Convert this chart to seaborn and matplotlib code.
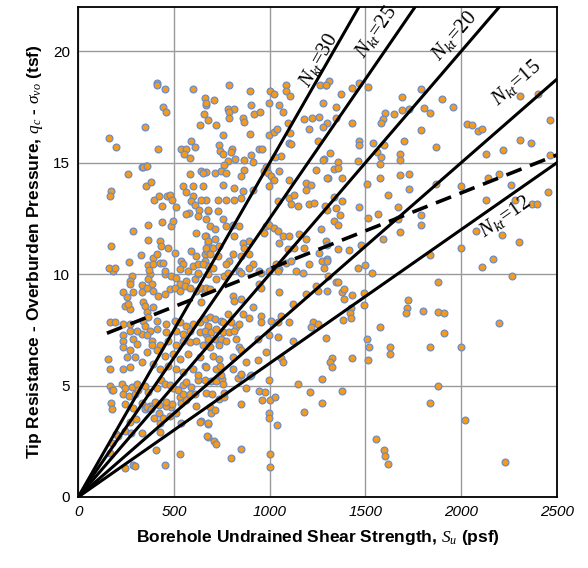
import numpy as np
import pandas as pd
import matplotlib
matplotlib.use("Agg")
import matplotlib.pyplot as plt
import seaborn as sns

# (Su psf, qc - svo tsf), grouped by area of the plot
pts_top_left = [(414, 18.6), (409, 18.5), (452, 18.3), (442, 17.5), (461, 17.3), (348, 16.6), (161, 16.1),
                (198, 15.7), (416, 15.6), (333, 14.8), (354, 14.85), (602, 18.3), (660, 17.9), (669, 17.6),
                (659, 17.2), (678, 16.9), (634, 16.7), (588, 16.0), (612, 15.7), (539, 15.6), (562, 15.6),
                (555, 15.4), (582, 15.2)]
pts_top_mid = [(790, 18.5), (898, 18.2), (1002, 18.2), (1024, 18.1), (1085, 18.5), (1087, 18.2), (1104, 18.0),
               (669, 17.7), (711, 17.8), (721, 16.7), (784, 17.4), (813, 17.4), (789, 17.3), (789, 17.0),
               (903, 17.6), (920, 17.2), (950, 17.3), (997, 17.7), (1049, 17.6), (1071, 17.3), (862, 17.0),
               (867, 16.85), (754, 16.25), (898, 16.3), (997, 16.25), (1024, 16.4), (1038, 16.5), (1095, 16.8),
               (1104, 16.35), (1180, 16.96), (1220, 17.0), (1257, 17.07), (1298, 16.8), (1264, 18.5), (1295, 18.5),
               (1278, 17.7), (1203, 16.5), (1279, 16.6), (1255, 16.0), (1102, 15.9), (1113, 15.86), (1061, 15.3),
               (1030, 15.24), (738, 15.8), (742, 15.55), (756, 15.4), (802, 15.6), (799, 15.5), (903, 15.36),
               (943, 15.6), (960, 15.6), (780, 15.06), (820, 15.16), (868, 15.13), (912, 15.03), (981, 14.8),
               (764, 14.9), (1286, 15.16)]
pts_top_right = [(1310, 18.66), (1296, 18.48), (1432, 18.35), (1466, 18.56), (1513, 18.42), (1371, 18.1),
                 (1345, 17.5), (1345, 17.0), (1428, 16.8), (1692, 17.95), (1792, 18.3), (1900, 17.86), (1960, 17.5),
                 (1806, 17.47), (1839, 17.23), (1730, 17.42), (1692, 17.37), (1647, 17.19), (1605, 17.23),
                 (1593, 16.96), (1584, 16.79), (2307, 18.0), (2404, 18.08), (2029, 16.74), (2059, 16.7),
                 (2089, 16.43), (2110, 16.52), (2466, 16.9), (1792, 16.47), (1704, 16.0), (1870, 15.7), (1541, 15.9),
                 (1596, 15.8), (1560, 15.5), (1584, 15.25), (1468, 15.97), (1468, 15.8), (1316, 15.46), (1279, 15.13),
                 (1356, 15.04), (1335, 14.73), (1359, 14.76), (1461, 15.06), (1683, 15.4), (1681, 15.13), (1730, 14.5),
                 (1683, 14.46), (1574, 14.95), (2130, 15.39), (2217, 15.58), (2305, 16.03), (2364, 15.9), (2466, 15.36)]
pts_upper_right = [(1305, 14.3), (1380, 14.3), (1576, 14.33), (1506, 14.06), (1726, 13.84), (1868, 14.03),
                   (2000, 13.95), (2139, 14.3), (2196, 14.48), (2258, 14.0), (2454, 13.67), (2130, 13.35),
                   (2283, 13.32), (2368, 13.14), (2394, 13.14), (2078, 11.93), (2215, 11.77), (2304, 11.44),
                   (2000, 11.17), (2165, 10.68), (2108, 10.33), (2264, 9.92), (1837, 10.86), (1616, 13.56),
                   (1671, 13.0), (1668, 12.49), (1792, 12.65), (1792, 12.23), (1683, 11.89), (1565, 12.7),
                   (1515, 12.5), (1593, 11.58), (1465, 13.0), (1376, 13.3), (1335, 13.45), (1288, 13.05),
                   (1345, 12.95), (1366, 12.65), (1337, 12.38), (1357, 12.23), (1267, 12.04), (1293, 11.49),
                   (1302, 11.33), (1357, 11.15), (1413, 11.08), (1477, 11.33), (1276, 10.6), (1302, 10.67),
                   (1463, 10.3), (1496, 10.39), (1536, 10.07), (1305, 9.92)]
pts_lower_right = [(1345, 9.66), (1359, 9.66), (1297, 9.24), (1380, 9.18), (1388, 9.34), (1428, 9.08), (1491, 9.17),
                   (1387, 8.88), (1425, 8.48), (1420, 8.27), (1426, 8.05), (1491, 8.62), (1385, 7.96), (1879, 9.67),
                   (1723, 8.85), (1718, 8.48), (1712, 8.24), (1801, 8.36), (1879, 8.32), (1912, 8.24), (2200, 7.83),
                   (1910, 7.34), (1577, 7.65), (1293, 7.13), (1506, 7.11), (1520, 6.71), (1512, 6.13), (1631, 6.75),
                   (1631, 6.4), (1839, 6.75), (1999, 6.75), (1324, 6.24), (1316, 6.08), (1324, 5.82), (1432, 6.24),
                   (1276, 5.28), (1376, 4.76), (1276, 4.23), (1879, 4.97), (1839, 4.23), (2021, 3.47), (1553, 2.62),
                   (1595, 2.13), (1605, 1.82), (1616, 1.46), (2227, 1.59)]
pts_bottom_mid = [(997, 5.24), (1148, 5.06), (1210, 4.72), (879, 4.9), (946, 4.76), (976, 4.72), (960, 4.36),
                  (1004, 4.36), (1030, 4.48), (851, 4.17), (995, 3.76), (995, 3.54), (1038, 3.24), (1180, 3.83),
                  (851, 2.17), (799, 1.73), (1004, 1.95), (1004, 1.33), (680, 2.71), (711, 2.53), (718, 2.38),
                  (690, 4.05), (692, 3.78), (716, 3.92), (643, 3.42), (680, 3.29), (738, 4.42), (759, 4.5),
                  (759, 4.67), (669, 4.69), (700, 4.63), (834, 5.34), (851, 5.49), (898, 5.42), (660, 5.24),
                  (692, 5.21), (721, 5.21), (750, 5.28), (756, 5.09)]
pts_bottom_left = [(166, 4.99), (177, 4.79), (170, 4.23), (177, 3.93), (244, 4.17), (288, 4.0), (236, 4.61),
                   (267, 4.55), (296, 4.64), (331, 4.23), (350, 3.97), (374, 4.08), (270, 3.38), (302, 3.51),
                   (198, 2.81), (210, 2.74), (244, 2.96), (276, 2.89), (175, 2.44), (166, 1.96), (244, 1.28),
                   (288, 1.42), (296, 1.37), (331, 2.89), (406, 2.11), (452, 1.43), (534, 1.92), (426, 2.93),
                   (426, 3.3), (395, 3.56), (423, 3.78), (444, 3.53), (478, 3.63), (484, 4.05), (458, 4.08),
                   (357, 4.05), (380, 3.93), (400, 4.27), (421, 4.12), (456, 4.27), (490, 4.17), (617, 4.09),
                   (634, 3.38), (676, 3.3), (674, 2.74), (539, 3.3), (513, 3.75), (530, 4.5), (539, 4.2), (565, 4.35),
                   (548, 4.64), (591, 4.94), (582, 4.64), (608, 4.64), (184, 4.79), (227, 5.09), (244, 4.87),
                   (279, 4.94), (305, 5.09), (314, 4.79), (348, 4.97), (366, 4.72), (409, 4.87), (435, 5.24),
                   (452, 5.09), (478, 5.01), (496, 4.87), (522, 4.82), (548, 5.01), (565, 5.16), (626, 5.24)]
pts_mid_left = [(184, 10.15), (279, 9.92), (270, 9.7), (270, 9.55), (331, 9.51), (374, 10.0), (366, 9.78),
                (383, 9.55), (452, 10.0), (487, 9.92), (513, 9.85), (565, 9.7), (530, 9.55), (608, 9.78), (626, 10.0),
                (236, 9.18), (253, 8.96), (284, 9.18), (244, 8.58), (270, 8.44), (261, 8.66), (331, 9.18), (357, 9.4),
                (392, 9.25), (418, 9.03), (452, 9.1), (478, 9.33), (505, 9.4), (530, 9.25), (556, 9.48), (582, 9.4),
                (617, 9.25), (643, 9.4), (660, 9.25), (340, 8.74), (348, 8.58), (392, 8.51), (357, 8.29),
                (366, 8.07), (340, 7.92), (348, 7.69), (374, 7.47), (331, 7.32), (357, 7.25), (383, 7.02),
                (166, 7.84), (192, 7.84), (236, 7.77), (270, 7.77), (270, 7.47), (305, 7.47), (236, 7.25),
                (236, 7.02), (288, 7.1), (305, 6.88), (236, 6.73), (270, 6.58), (253, 6.28), (296, 6.28), (158, 6.2),
                (166, 5.76), (236, 5.76), (270, 5.83), (409, 7.92), (461, 7.77), (505, 7.92), (530, 7.84),
                (565, 7.69), (600, 7.77), (634, 7.84), (660, 7.99), (678, 7.69), (409, 7.54), (461, 7.4), (513, 7.47),
                (548, 7.32), (582, 7.47), (634, 7.4), (669, 7.32), (383, 6.8), (426, 6.8), (470, 7.02), (513, 6.8),
                (548, 7.02), (582, 6.95), (617, 7.02), (678, 6.95), (357, 6.5), (409, 6.58), (452, 6.35),
                (496, 6.43), (530, 6.2), (574, 6.43), (634, 6.28), (331, 6.06), (392, 5.98), (426, 5.76), (470, 5.9),
                (513, 5.76), (548, 5.61), (600, 5.76), (660, 5.9), (626, 5.46)]
pts_upper_left = [(258, 14.51), (340, 14.8), (357, 14.84), (172, 13.72), (166, 13.5), (352, 13.97), (380, 14.12),
                  (395, 13.32), (421, 13.5), (464, 13.5), (478, 13.57), (440, 13.08), (492, 13.32), (513, 13.0),
                  (362, 12.23), (440, 12.34), (484, 12.16), (496, 12.38), (288, 11.93), (362, 11.53), (426, 11.49),
                  (432, 11.26), (470, 11.19), (505, 10.97), (172, 11.26), (328, 10.85), (392, 10.74), (409, 10.89),
                  (265, 10.55), (366, 10.42), (392, 10.45), (426, 10.49), (444, 10.52), (371, 10.18), (452, 10.15),
                  (163, 10.3), (192, 10.27), (582, 14.51), (643, 14.61), (666, 14.58), (548, 13.94), (600, 13.97),
                  (562, 13.69), (597, 13.49), (591, 13.27), (608, 13.09), (631, 12.87), (669, 13.35), (678, 12.83),
                  (579, 12.75), (562, 12.68), (626, 12.6), (669, 12.46), (613, 11.86), (666, 11.71), (678, 11.42),
                  (591, 11.04), (617, 10.82), (660, 10.89), (674, 11.04), (539, 10.6), (548, 10.45), (600, 10.37),
                  (626, 10.45), (660, 10.6), (678, 10.37), (530, 10.22), (574, 10.15), (626, 10.07)]
pts_center = [(652, 14.54), (712, 14.54), (747, 14.61), (773, 14.54), (868, 14.66), (851, 14.39), (972, 14.61),
              (990, 14.54), (1007, 14.39), (1024, 14.24), (998, 13.94), (1050, 14.61), (1102, 14.24), (1241, 14.69),
              (1302, 14.32), (1189, 14.09), (1215, 14.02), (1189, 13.79), (1102, 13.42), (1042, 13.27), (1128, 13.57),
              (1111, 13.13), (1146, 13.05), (1206, 13.13), (1232, 13.2), (1302, 12.9), (652, 13.94), (756, 14.02),
              (816, 13.87), (860, 13.72), (912, 13.79), (643, 13.35), (730, 13.35), (773, 13.35), (816, 13.35),
              (851, 13.42), (678, 12.9), (730, 12.83), (756, 12.46), (686, 12.16), (712, 12.01), (773, 12.16),
              (808, 12.23), (842, 12.16), (816, 11.71), (660, 11.71), (678, 11.49), (712, 11.56), (669, 11.19),
              (704, 11.19), (738, 11.26), (686, 10.89), (730, 10.82), (790, 10.6), (808, 10.89), (860, 11.41),
              (894, 11.49), (868, 11.19), (894, 10.89), (851, 10.82), (912, 10.45), (981, 12.16), (998, 12.23),
              (1024, 12.08), (972, 11.86), (1042, 11.93), (1068, 11.71), (1102, 11.71), (1154, 11.79), (1050, 11.41),
              (1094, 11.12), (1128, 11.19), (1189, 11.56), (1180, 11.19), (1206, 10.45), (1258, 10.97), (1302, 10.6),
              (1284, 10.3), (1033, 10.45), (1085, 10.52), (1050, 10.22), (1111, 10.6), (1137, 10.15), (842, 10.15),
              (894, 10.3), (946, 10.15), (998, 10.15), (652, 10.45), (704, 10.3), (773, 10.45)]
pts_lower_mid = [(678, 10.0), (721, 9.78), (764, 9.92), (782, 10.07), (851, 10.07), (955, 10.07), (1042, 10.15),
                 (1172, 10.07), (669, 9.4), (686, 9.33), (808, 9.03), (816, 8.81), (851, 8.88), (946, 9.55),
                 (955, 9.4), (1050, 9.21), (1189, 9.1), (1241, 9.48), (1250, 9.25), (1120, 8.66), (643, 8.74),
                 (686, 8.07), (712, 7.99), (747, 7.92), (756, 7.84), (782, 8.21), (799, 7.84), (825, 7.62),
                 (842, 7.77), (860, 8.21), (891, 8.02), (912, 8.51), (955, 8.14), (955, 7.84), (1007, 7.92),
                 (1059, 8.14), (1102, 7.87), (1042, 7.84), (1224, 7.84), (1250, 7.77), (1215, 7.62), (660, 7.47),
                 (695, 7.4), (721, 7.54), (756, 7.4), (790, 7.4), (816, 7.47), (678, 7.1), (712, 7.1), (747, 7.1),
                 (773, 7.02), (825, 7.1), (938, 7.1), (998, 7.25), (1042, 7.17), (1120, 7.02), (652, 6.8),
                 (686, 6.73), (738, 6.8), (842, 6.73), (851, 6.58), (981, 6.5), (704, 6.35), (738, 6.2), (808, 6.28),
                 (877, 6.06), (938, 6.13), (1059, 6.24), (1068, 6.06), (669, 5.83), (721, 5.76), (740, 5.9),
                 (808, 5.76), (851, 5.54), (903, 5.46), (747, 5.46)]

nkt = [12, 15, 20, 25, 30]
nkt_label_pos = [(2229, 12.6), (2290, 18.6), (1965, 20.7), (1555, 20.9), (1255, 19.6)]
trend_su = [150, 2500]
trend_qc = [7.35, 15.35]

groups = [pts_top_left, pts_top_mid, pts_top_right, pts_upper_right, pts_lower_right, pts_bottom_mid,
          pts_bottom_left, pts_mid_left, pts_upper_left, pts_center, pts_lower_mid]
df = pd.DataFrame([p for g in groups for p in g], columns=["su", "qc"])

sns.set_style("white")
plt.rcParams["font.family"] = ["Liberation Sans", "DejaVu Sans"]
plt.rcParams["text.color"] = "black"
plt.rcParams["axes.labelcolor"] = "black"
plt.rcParams["xtick.color"] = "black"
plt.rcParams["ytick.color"] = "black"
plt.rcParams["mathtext.fontset"] = "custom"
plt.rcParams["mathtext.rm"] = "Liberation Serif"
plt.rcParams["mathtext.it"] = "Liberation Serif:italic"
plt.rcParams["mathtext.bf"] = "Liberation Serif:bold"

fig = plt.figure(figsize=(5.88, 5.68), dpi=100)
ax = fig.add_axes([0.133, 0.125, 0.814, 0.863])
ax.set_xlim(0, 2500)
ax.set_ylim(0, 22)
ax.set_xticks(range(0, 2501, 500))
ax.set_yticks(range(0, 21, 5))
ax.grid(True, color="#9a9a9a", lw=1)
ax.set_axisbelow(True)

sns.scatterplot(data=df, x="su", y="qc", ax=ax, color="#F59A1B", edgecolor="#6C8CC4",
                s=24, linewidth=0.9, zorder=3, legend=False)

xs = np.array([0, 2500])
for n in nkt:
    ax.plot(xs, n * xs / 2000, color="black", lw=2.2, zorder=4)
ax.plot(trend_su, trend_qc, color="black", lw=2.6, dashes=(4.5, 2.5), zorder=4)

for n, (lx, ly) in zip(nkt, nkt_label_pos):
    p0 = ax.transData.transform((0, 0))
    p1 = ax.transData.transform((2000, n))
    ang = np.degrees(np.arctan2(p1[1] - p0[1], p1[0] - p0[0]))
    ax.text(lx, ly, r"$N_{kt}$=" + str(n), rotation=ang, ha="center", va="center",
            fontsize=15, family="Liberation Serif", zorder=5, rotation_mode="anchor")

for s in ax.spines.values():
    s.set_color("black")
    s.set_linewidth(1.3)

ax.tick_params(axis="both", labelsize=11, length=0, pad=6)
for t in ax.get_xticklabels():
    t.set_style("italic")

ax.set_xlabel(r"Borehole Undrained Shear Strength, $S_u$ (psf)", fontsize=12.5, fontweight="bold", labelpad=6)
ax.set_ylabel(r"Tip Resistance - Overburden Pressure, $q_c$ - $\sigma_{vo}$ (tsf)",
              fontsize=12.5, fontweight="bold", labelpad=6)

fig.savefig("out.png", dpi=100)
